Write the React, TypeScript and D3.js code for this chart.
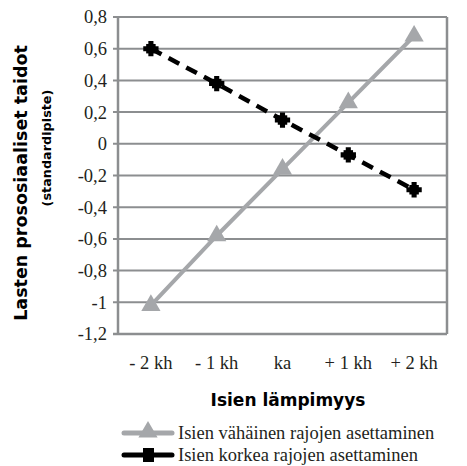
import React from 'react';
import * as d3 from 'd3';

const categories = ['- 2 kh', '- 1 kh', 'ka', '+ 1 kh', '+ 2 kh'];
const lowLimits = [-1.02, -0.58, -0.16, 0.26, 0.68];
const highLimits = [0.6, 0.38, 0.15, -0.07, -0.29];
const yTicks = [0.8, 0.6, 0.4, 0.2, 0, -0.2, -0.4, -0.6, -0.8, -1, -1.2];
const seriesNames = ['Isien vähäinen rajojen asettaminen', 'Isien korkea rajojen asettaminen'];

const W = 467;
const H = 466;
const margin = { top: 17, right: 20, bottom: 132, left: 118 };
const gridColor = '#8c8e90';
const grayLine = '#a5a7aa';
const serif = '"Liberation Serif", "Times New Roman", serif';
const sans = '"DejaVu Sans", "Noto Sans", sans-serif';

export default function App() {
  const innerW = W - margin.left - margin.right;
  const innerH = H - margin.top - margin.bottom;

  const x = d3.scaleBand<string>().domain(categories).range([0, innerW]);
  const y = d3.scaleLinear().domain([-1.2, 0.8]).range([innerH, 0]);
  const cx = (c: string) => (x(c) ?? 0) + x.bandwidth() / 2;

  const line = d3.line<number>()
    .x((_, i) => cx(categories[i]))
    .y(d => y(d));

  const tri = d3.symbol().type(d3.symbolTriangle).size(160)() || '';
  const sq = d3.symbol().type(d3.symbolSquare).size(90)() || '';
  const cross = d3.symbol().type(d3.symbolCross).size(130)() || '';
  const fmt = (v: number) => String(v).replace('.', ',');

  return (
    <svg width={W} height={H} style={{ position: 'absolute', left: 0, top: 0 }}>
      <g transform={`translate(${margin.left},${margin.top})`}>
        {yTicks.map(t => (
          <g key={t}>
            <line x1={-5} x2={innerW} y1={y(t)} y2={y(t)} stroke={gridColor} strokeWidth={2} />
            <text x={-11} y={y(t)} dy="0.35em" textAnchor="end" fontFamily={serif} fontSize={18.5} fill="#231f20">
              {fmt(t)}
            </text>
          </g>
        ))}
        <line x1={0} x2={0} y1={0} y2={innerH} stroke={gridColor} strokeWidth={2.5} />
        <line x1={innerW} x2={innerW} y1={0} y2={innerH} stroke={gridColor} strokeWidth={2.5} />
        <line x1={-5} x2={innerW} y1={innerH} y2={innerH} stroke={gridColor} strokeWidth={2.5} />

        {categories.map(c => (
          <text key={c} x={cx(c)} y={innerH + 35} textAnchor="middle" fontFamily={serif} fontSize={18.5} fill="#231f20">
            {c}
          </text>
        ))}

        <path d={line(lowLimits) || ''} fill="none" stroke={grayLine} strokeWidth={4} />
        {lowLimits.map((v, i) => (
          <path key={i} d={tri} transform={`translate(${cx(categories[i])},${y(v)})`} fill={grayLine} />
        ))}

        <path d={line(highLimits) || ''} fill="none" stroke="#000" strokeWidth={4.5} strokeDasharray="12 8" />
        {highLimits.map((v, i) => (
          <g key={i} transform={`translate(${cx(categories[i])},${y(v)})`}>
            <path d={sq} fill="#000" />
            <path d={cross} fill="#000" />
          </g>
        ))}
      </g>

      <text transform={`translate(27,183) rotate(-90)`} textAnchor="middle" fontFamily={sans} fontWeight="bold" fontSize={17.5} fill="#000">
        Lasten prososiaaliset taidot
      </text>
      <text transform={`translate(51,148) rotate(-90)`} textAnchor="middle" fontFamily={sans} fontWeight="bold" fontSize={12.8} fill="#000">
        (standardipiste)
      </text>

      <text x={288} y={406} textAnchor="middle" fontFamily={sans} fontWeight="bold" fontSize={17} fill="#000">
        Isien lämpimyys
      </text>

      {seriesNames.map((name, i) => {
        const ly = 433 + i * 22;
        return (
          <g key={name}>
            <line x1={124} x2={172} y1={ly} y2={ly} stroke={i === 0 ? grayLine : '#000'} strokeWidth={5} strokeLinecap="round" />
            {i === 0 ? (
              <path d={tri} transform={`translate(148,${ly - 1})`} fill={grayLine} />
            ) : (
              <rect x={143} y={ly - 7} width={11} height={14} fill="#000" />
            )}
            <text x={178} y={ly} dy="0.35em" fontFamily={serif} fontSize={18.5} fill="#231f20">
              {name}
            </text>
          </g>
        );
      })}
    </svg>
  );
}
